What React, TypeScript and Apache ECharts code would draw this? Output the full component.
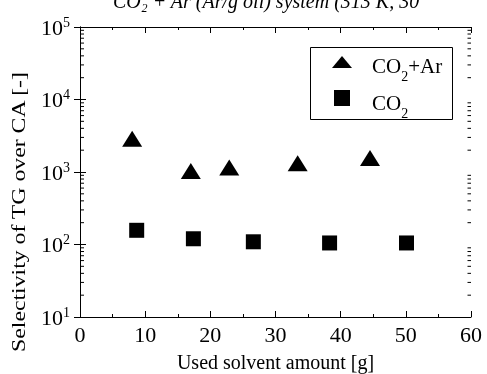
import React, { useEffect, useRef } from "react";
import * as echarts from "echarts";

const arX = [8.0, 17.0, 22.9, 33.4, 44.5];
const arY = [2880, 1030, 1150, 1320, 1560];
const co2X = [8.7, 17.4, 26.6, 38.3, 50.1];
const co2Y = [157, 120, 109, 105, 105];
const minorValues: number[] = [];
for (const d of [10, 100, 1000, 10000]) for (let k = 2; k <= 9; k++) minorValues.push(k * d);

const FONT = "'Liberation Serif', 'Times New Roman', Times, serif";

export default function App() {
  const ref = useRef<HTMLDivElement>(null);
  useEffect(() => {
    const chart = echarts.init(ref.current!, undefined, { renderer: "svg" });
    const axisCommon = {
      axisLine: { show: true, lineStyle: { color: "#000", width: 1 } },
      splitLine: { show: false },
    };
    chart.setOption({
      animation: false,
      textStyle: { fontFamily: FONT },
      grid: { left: 80, right: 16, top: 27, bottom: 57, containLabel: false, outerBoundsMode: "none" },
      xAxis: [
        {
          type: "value", min: 0, max: 60, interval: 10, position: "bottom",
          ...axisCommon,
          axisTick: { show: true, inside: true, length: 6, lineStyle: { color: "#000" } },
          minorTick: { show: true, splitNumber: 2, length: 3, lineStyle: { color: "#000" } },
          axisLabel: { fontFamily: FONT, fontSize: 22, color: "#000", margin: 6 },
          name: "Used solvent amount [g]", nameLocation: "middle", nameGap: 35,
          nameTextStyle: { fontFamily: FONT, fontSize: 20, color: "#000" },
        },
        {
          type: "value", min: 0, max: 60, interval: 10, position: "top",
          ...axisCommon,
          axisTick: { show: true, inside: true, length: 6, lineStyle: { color: "#000" } },
          minorTick: { show: true, splitNumber: 2, length: 3, lineStyle: { color: "#000" } },
          axisLabel: { show: false },
        },
      ],
      yAxis: [
        {
          type: "log", logBase: 10, min: 10, max: 100000, position: "left",
          ...axisCommon,
          axisTick: { show: true, inside: true, length: 6, lineStyle: { color: "#000" } },
          axisLabel: {
            margin: 10,
            formatter: (v: number) => `{b|10}{s|${Math.round(Math.log10(v))}}`,
            rich: {
              b: { fontFamily: FONT, fontSize: 22, color: "#000" },
              s: { fontFamily: FONT, fontSize: 14, color: "#000", padding: [0, 0, 10, 0] },
            },
          },
        },
        {
          type: "log", logBase: 10, min: 10, max: 100000, position: "right",
          ...axisCommon,
          axisTick: { show: true, inside: true, length: 6, lineStyle: { color: "#000" } },
          axisLabel: { show: false },
        },
      ],
      series: [
        {
          name: "CO2+Ar", type: "scatter", symbol: "triangle", symbolSize: [20, 16],
          itemStyle: { color: "#000", opacity: 1 },
          data: arX.map((x, i) => [x, arY[i]]),
        },
        {
          name: "CO2", type: "scatter", symbol: "rect", symbolSize: 15,
          itemStyle: { color: "#000", opacity: 1 },
          data: co2X.map((x, i) => [x, co2Y[i]]),
        },
        {
          type: "custom", silent: true, clip: false, z: 10,
          data: minorValues.map((v) => [30, v]),
          renderItem: (params: any, api: any) => {
            const v = api.value(1);
            const y = api.coord([30, v])[1];
            const cs = params.coordSys;
            const xl = cs.x;
            const xr = cs.x + cs.width;
            const st = { stroke: "#000", lineWidth: 1 };
            return {
              type: "group",
              children: [
                { type: "line", shape: { x1: xl, y1: y, x2: xl + 4, y2: y }, style: st },
                { type: "line", shape: { x1: xr - 3.5, y1: y, x2: xr, y2: y }, style: st },
              ],
            };
          },
        },
      ],
      graphic: [
        {
          type: "text", left: 113, top: -9,
          style: { text: "CO\u2082 + Ar (Ar/g oil) system (313 K, 30", fontFamily: FONT, fontSize: 20, fontStyle: "italic", fill: "#000" },
        },
        {
          type: "text", x: 19, y: 212, rotation: Math.PI / 2, scaleX: 1.25,
          style: {
            text: "Selectivity of TG over CA [-]", fontFamily: FONT, fontSize: 19, fill: "#000",
            align: "center", verticalAlign: "middle",
          },
        },
        {
          type: "rect", shape: { x: 310.5, y: 47.5, width: 142, height: 72 },
          style: { fill: "#fff", stroke: "#000", lineWidth: 1 },
        },
        {
          type: "polygon", shape: { points: [[332, 68], [352, 68], [342, 56]] },
          style: { fill: "#000" },
        },
        {
          type: "rect", shape: { x: 334, y: 90, width: 16, height: 16 },
          style: { fill: "#000" },
        },
        {
          type: "text", x: 372, y: 66,
          style: {
            text: "{a|CO}{b|2}{a|+Ar}", verticalAlign: "middle",
            rich: {
              a: { fontFamily: FONT, fontSize: 21, fill: "#000" },
              b: { fontFamily: FONT, fontSize: 14, fill: "#000", padding: [20, 0, 0, 0] },
            },
          },
        },
        {
          type: "text", x: 372, y: 103,
          style: {
            text: "{a|CO}{b|2}", verticalAlign: "middle",
            rich: {
              a: { fontFamily: FONT, fontSize: 21, fill: "#000" },
              b: { fontFamily: FONT, fontSize: 14, fill: "#000", padding: [20, 0, 0, 0] },
            },
          },
        },
      ],
    });
    return () => chart.dispose();
  }, []);
  return <div ref={ref} style={{ width: 487, height: 374, position: "fixed", left: 0, top: 0 }} />;
}
